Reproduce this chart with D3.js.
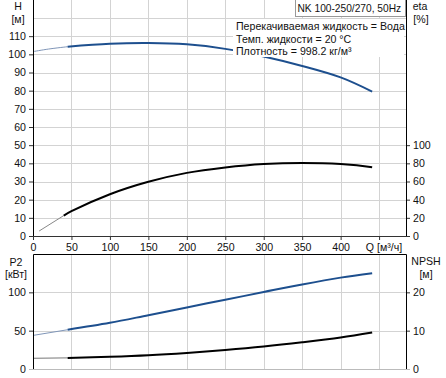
<!DOCTYPE html>
<html>
<head>
<meta charset="utf-8">
<script src="https://cdn.jsdelivr.net/npm/d3@7"></script>
<style>
  body { margin: 0; background: #fff; }
  svg { display: block; font-family: "Liberation Sans", Arial, sans-serif; }
</style>
</head>
<body>
<div id="container"></div>
<script>
// flow ticks
const qTicks = [0, 50, 100, 150, 200, 250, 300, 350, 400, 450];
const qLabels = ["0", "50", "100", "150", "200", "250", "300", "350", "400"];
const hTicks = [0, 10, 20, 30, 40, 50, 60, 70, 80, 90, 100, 110];
const hGrid = [10, 20, 30, 40, 50, 60, 70, 80, 90, 100, 110, 120];
const etaTicks = [0, 20, 40, 60, 80, 100];
const p2Ticks = [0, 50, 100];
const npshTicks = [0, 10, 20];

// head curve H [m]
const headThinQ = [0, 20, 45];
const headThin = [101.5, 102.9, 104.2];
const headQ = [45, 100, 150, 200, 250, 300, 350, 400, 441];
const head = [104.2, 105.8, 106.2, 105.5, 103.0, 98.8, 93.6, 87.3, 79.5];

// efficiency eta [%]
const etaThinQ = [8, 40];
const etaThin = [5.5, 22.5];
const etaQ = [40, 50, 100, 150, 200, 250, 300, 350, 400, 441];
const eta = [22.5, 27.3, 46, 59.7, 69.5, 75.5, 79.3, 80.5, 79.3, 75.8];

// power P2 [kW]
const powerThinQ = [0, 45];
const powerThin = [43.8, 51.2];
const powerQ = [45, 100, 150, 200, 250, 300, 350, 400, 441];
const power = [51.2, 60.2, 70.2, 80.3, 90.3, 100.4, 110.3, 119.2, 125];

// NPSH [m]
const npshThinQ = [0, 45];
const npshThin = [2.8, 2.9];
const npshQ = [45, 100, 150, 200, 250, 300, 350, 400, 441];
const npsh = [2.9, 3.2, 3.6, 4.2, 4.95, 5.85, 6.95, 8.2, 9.5];

const width = 446;
const height = 378;
const left = 33;
const right = 406;
const topBottom = 236;
const botTop = 254;
const botBottom = 369;

const blue = "#1d4f8e";
const gridColor = "#d3d3d3";
const textColor = "#111";
const fontSize = 10.6;

const x = d3.scaleLinear().domain([0, 485]).range([left, right]);
const yH = d3.scaleLinear().domain([0, 120]).range([topBottom, 18]);
const yEta = d3.scaleLinear().domain([0, 240]).range([topBottom, 18]);
const yP2 = d3.scaleLinear().domain([0, 150]).range([botBottom, botTop]);
const yNpsh = d3.scaleLinear().domain([0, 30]).range([botBottom, botTop]);

const svg = d3.create("svg").attr("width", width).attr("height", height);

const crisp = (v) => Math.round(v) + 0.5;

// grids
const grid = svg.append("g").attr("stroke", gridColor).attr("stroke-width", 1);
grid
  .selectAll("line.vt")
  .data(qTicks.slice(1))
  .enter()
  .append("line")
  .attr("x1", (d) => crisp(x(d)))
  .attr("x2", (d) => crisp(x(d)))
  .attr("y1", 0)
  .attr("y2", topBottom);
grid
  .selectAll("line.vb")
  .data(qTicks.slice(1))
  .enter()
  .append("line")
  .attr("x1", (d) => crisp(x(d)))
  .attr("x2", (d) => crisp(x(d)))
  .attr("y1", botTop)
  .attr("y2", botBottom);
grid
  .selectAll("line.ht")
  .data(hGrid)
  .enter()
  .append("line")
  .attr("x1", left)
  .attr("x2", right)
  .attr("y1", (d) => crisp(yH(d)))
  .attr("y2", (d) => crisp(yH(d)));
grid
  .selectAll("line.hb")
  .data([50, 100])
  .enter()
  .append("line")
  .attr("x1", left)
  .attr("x2", right)
  .attr("y1", (d) => crisp(yP2(d)))
  .attr("y2", (d) => crisp(yP2(d)));

// curves
const drawCurve = (qs, vs, yScale, color, w) => {
  const pts = qs.map((q, i) => [x(q), yScale(vs[i])]);
  svg
    .append("path")
    .attr("d", d3.line().curve(d3.curveCatmullRom.alpha(0.5))(pts))
    .attr("fill", "none")
    .attr("stroke", color)
    .attr("stroke-width", w);
};

drawCurve(headThinQ, headThin, yH, "#8096b8", 1);
drawCurve(headQ, head, yH, blue, 2);
drawCurve(etaThinQ, etaThin, yEta, "#888", 1);
drawCurve(etaQ, eta, yEta, "#000", 2);
drawCurve(powerThinQ, powerThin, yP2, "#8096b8", 1);
drawCurve(powerQ, power, yP2, blue, 2);
drawCurve(npshThinQ, npshThin, yNpsh, "#777", 1);
drawCurve(npshQ, npsh, yNpsh, "#000", 2);

// axes top panel
svg
  .append("g")
  .attr("transform", `translate(${crisp(left) - 0.5},0)`)
  .call(d3.axisLeft(yH).tickValues(hTicks).tickSize(4).tickFormat(d3.format("d")))
  .call((g) => g.select(".domain").remove());
svg
  .append("line")
  .attr("x1", crisp(left)).attr("x2", crisp(left))
  .attr("y1", 0).attr("y2", topBottom)
  .attr("stroke", "#000");

svg
  .append("g")
  .attr("transform", `translate(${crisp(right) - 0.5},0)`)
  .call(d3.axisRight(yEta).tickValues(etaTicks).tickSize(4).tickFormat(d3.format("d")))
  .call((g) => g.select(".domain").remove());
svg
  .append("line")
  .attr("x1", crisp(right)).attr("x2", crisp(right))
  .attr("y1", 0).attr("y2", topBottom)
  .attr("stroke", "#000");

svg
  .append("g")
  .attr("class", "qaxis")
  .attr("transform", `translate(0,${topBottom})`)
  .call(
    d3.axisBottom(x)
      .tickValues(qTicks)
      .tickSize(4)
      .tickFormat((d) => (qLabels.includes(String(d)) ? String(d) : ""))
  )
  .call((g) => g.select(".domain").remove());
svg
  .append("line")
  .attr("x1", left - 4).attr("x2", right)
  .attr("y1", crisp(topBottom)).attr("y2", crisp(topBottom))
  .attr("stroke", "#333");

// axes bottom panel
svg
  .append("g")
  .attr("transform", `translate(${crisp(left) - 0.5},0)`)
  .call(d3.axisLeft(yP2).tickValues(p2Ticks).tickSize(4))
  .call((g) => g.select(".domain").remove());
svg
  .append("g")
  .attr("transform", `translate(${crisp(right) - 0.5},0)`)
  .call(d3.axisRight(yNpsh).tickValues(npshTicks).tickSize(4))
  .call((g) => g.select(".domain").remove());
svg
  .append("line")
  .attr("x1", left - 4).attr("x2", right + 4)
  .attr("y1", crisp(botBottom)).attr("y2", crisp(botBottom))
  .attr("stroke", "#bbb");
svg
  .append("path")
  .attr("d", `M${crisp(left)},${botBottom}V${crisp(botTop)}H${crisp(right)}V${botBottom}`)
  .attr("fill", "none")
  .attr("stroke", "#000");

svg.selectAll(".tick text").attr("font-size", fontSize).attr("fill", textColor).attr("font-family", null);
svg.selectAll(".tick line").attr("stroke", "#333");
svg.selectAll(".qaxis .tick text").attr("y", 7);

// axis titles
const label = (tx, ty, t, anchor = "middle", size = fontSize) =>
  svg
    .append("text")
    .attr("x", tx)
    .attr("y", ty)
    .attr("text-anchor", anchor)
    .attr("font-size", size)
    .attr("fill", textColor)
    .text(t);

label(18, 10, "H");
label(18, 23, "[м]");
label(420, 10, "eta");
label(421, 23, "[%]");
label(384, 251, "Q [м³/ч]");
label(16, 266, "P2");
label(16, 278, "[кВт]");
label(426, 265, "NPSH");
label(426, 278, "[м]");

// pump info
svg
  .append("rect")
  .attr("x", 233).attr("y", 19)
  .attr("width", 171).attr("height", 38)
  .attr("fill", "#fff");
label(236, 30, "Перекачиваемая жидкость = Вода", "start");
label(236, 43, "Темп. жидкости = 20 °C", "start");
label(236, 55, "Плотность = 998.2 кг/м³", "start");

svg
  .append("rect")
  .attr("x", 295.5).attr("y", -0.5)
  .attr("width", 110).attr("height", 17)
  .attr("fill", "#fff")
  .attr("stroke", "#999");
label(297.5, 12, "NK 100-250/270, 50Hz", "start", 10.2);

d3.select("#container").append(() => svg.node());
</script>
</body>
</html>
